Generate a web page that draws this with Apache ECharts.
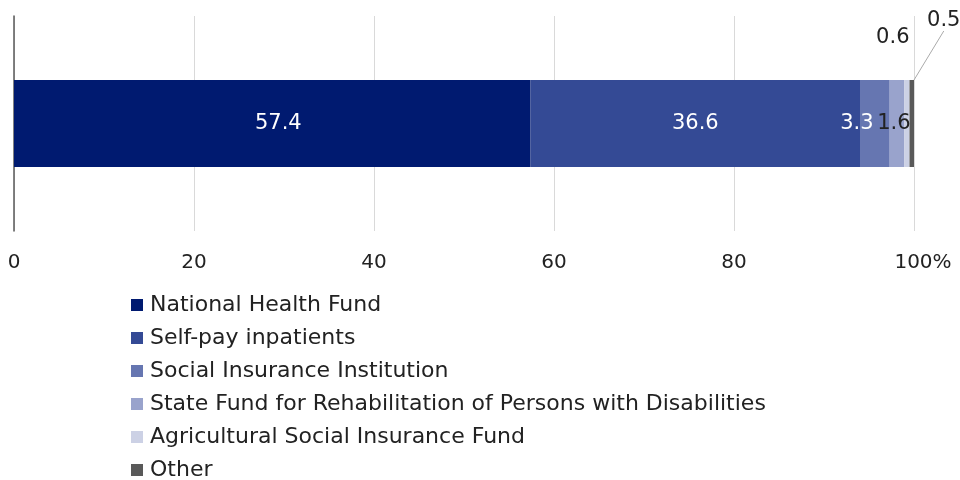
<!DOCTYPE html>
<html><head><meta charset="utf-8">
<script src="https://cdn.jsdelivr.net/npm/echarts@6/dist/echarts.min.js"></script>
<style>html,body{margin:0;padding:0;background:#fff}#c{width:960px;height:480px}</style>
</head><body><div id="c"></div>
<script>
const categories = ['Total'];
const seriesNames = ['National Health Fund','Self-pay inpatients','Social Insurance Institution','State Fund for Rehabilitation of Persons with Disabilities','Agricultural Social Insurance Fund','Other'];
const values = [57.4, 36.6, 3.3, 1.6, 0.6, 0.5];
const colors = ['#001a70','#344a95','#6676b1','#99a3cc','#ccd1e5','#595959'];
const xTicks = [0,20,40,60,80,100];
const FONT = '"DejaVu Sans", sans-serif';

const labelCfg = [
  {show:true, position:'inside', color:'#fff', offset:[6,0]},
  {show:true, position:'inside', color:'#fff'},
  {show:true, position:'inside', color:'#fff', offset:[-18,0]},
  {show:true, position:'inside', color:'#222', offset:[-3,0]},
  {show:true, position:'inside', color:'#222'},
  {show:true, position:'inside', color:'#222'}
];
const layouts = [null,null,null,null,{dx:-14,dy:-86},{dx:32,dy:-103}];

const series = seriesNames.map((n,i)=>{
  const s = {
    name:n, type:'bar', stack:'a', barWidth:87,
    data:[values[i]],
    itemStyle:{color:colors[i]},
    label:Object.assign({fontFamily:FONT,fontSize:21,formatter:p=>p.value.toFixed(1)},labelCfg[i]),
    emphasis:{disabled:true}
  };
  if(layouts[i]) s.labelLayout = layouts[i];
  if(i===5){ s.labelLine = {show:true, lineStyle:{color:'#aaa', width:1}}; }
  return s;
});

const chart = echarts.init(document.getElementById('c'));
chart.setOption({
  animation:false,
  textStyle:{fontFamily:FONT},
  grid:{left:14,right:46,top:16,bottom:249},
  xAxis:{type:'value',min:0,max:100,interval:20,
    axisLine:{show:false},axisTick:{show:false},
    splitLine:{lineStyle:{color:'#d9d9d9'}},
    axisLabel:{fontFamily:FONT,fontSize:20,color:'#222',margin:22,
      formatter:v=>v===100?'{p|100%}':String(v),
      rich:{p:{fontFamily:FONT,fontSize:20,color:'#222',padding:[0,0,0,18]}}}},
  yAxis:{type:'category',data:categories,
    axisLine:{lineStyle:{color:'#595959',width:1.5}},axisTick:{show:false},axisLabel:{show:false}},
  legend:{orient:'vertical',left:126,top:289,height:190,itemWidth:12,itemHeight:12,itemGap:11,
    icon:'rect',textStyle:{fontFamily:FONT,fontSize:22,lineHeight:22,color:'#222',padding:[0,0,0,2]},
    data:seriesNames},
  series:series
});
</script></body></html>
